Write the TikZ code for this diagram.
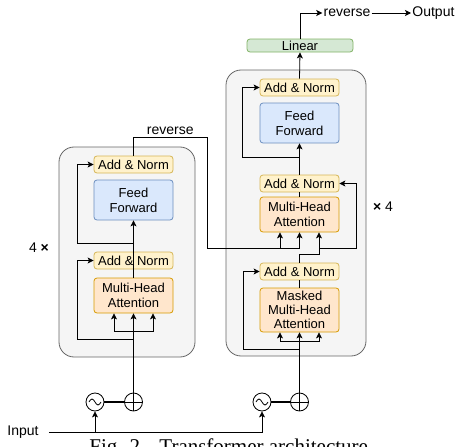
\documentclass[tikz,border=0pt]{standalone}
\usepackage{fontspec}
\setmainfont{Liberation Sans}
\newfontfamily\capfont{Liberation Serif}
\usetikzlibrary{arrows.meta}
\definecolor{ylwfill}{HTML}{FFF2CC}
\definecolor{ylwdraw}{HTML}{D6B656}
\definecolor{bluefill}{HTML}{DAE8FC}
\definecolor{bluedraw}{HTML}{6C8EBF}
\definecolor{orgfill}{HTML}{FFE6CC}
\definecolor{orgdraw}{HTML}{D79B00}
\definecolor{grnfill}{HTML}{D5E8D4}
\definecolor{grndraw}{HTML}{82B366}
\definecolor{blkfill}{HTML}{F5F5F5}
\definecolor{blkdraw}{HTML}{666666}
\tikzset{
  box/.style={draw, rounded corners=3pt, minimum width=79pt, inner sep=0pt,
    align=center, line width=0.8pt, font=\fontsize{13}{15}\selectfont},
  addnorm/.style={box, fill=ylwfill, draw=ylwdraw, minimum height=17pt},
  feedfwd/.style={box, fill=bluefill, draw=bluedraw, minimum height=40pt},
  attn/.style={box, fill=orgfill, draw=orgdraw},
  block/.style={fill=blkfill, draw=blkdraw, line width=0.8pt, rounded corners=15pt},
  lbl/.style={inner sep=1pt, font=\fontsize{14}{16}\selectfont},
  arr/.style={-{Stealth[length=6pt,width=6pt,inset=1.5pt]}},
  wave/.style={circle, draw, minimum size=18pt, inner sep=0pt, line width=0.8pt,
    path picture={\draw ([xshift=-6pt]path picture bounding box.center)
      sin ++(3pt,3pt) cos ++(3pt,-3pt) sin ++(3pt,-3pt) cos ++(3pt,3pt);}},
  summ/.style={circle, draw, minimum size=18pt, inner sep=0pt, line width=0.8pt,
    path picture={\draw (path picture bounding box.north) -- (path picture bounding box.south)
      (path picture bounding box.west) -- (path picture bounding box.east);}}
}
\begin{document}
\begin{tikzpicture}[x=1pt,y=-1pt,line width=0.8pt]
\useasboundingbox (0,0) rectangle (456,447);
\draw[block] (59,147) rectangle (195,357);
\draw[block] (226,70) rectangle (366,356);

\node[addnorm] (encan2) at (133.5,164.5) {Add \& Norm};
\node[feedfwd] (encff) at (133.5,200) {Feed\\Forward};
\node[addnorm] (encan1) at (133.5,260.5) {Add \& Norm};
\node[attn, minimum height=35pt] (encmha) at (133.5,295.5) {Multi-Head\\Attention};

\node[box, fill=grnfill, draw=grndraw, minimum width=106pt, minimum height=13pt] (linear) at (300,45.5) {Linear};
\node[addnorm] (decan3) at (299.5,87.5) {Add \& Norm};
\node[feedfwd] (decff) at (299.5,123) {Feed\\Forward};
\node[addnorm] (decan2) at (299.5,183.5) {Add \& Norm};
\node[attn, minimum height=35pt] (decmha) at (299.5,214.5) {Multi-Head\\Attention};
\node[addnorm] (decan1) at (299.5,271.5) {Add \& Norm};
\node[attn, minimum height=44pt, font=\fontsize{13}{14}\selectfont] (decmmha) at (299.5,310) {Masked\\Multi-Head\\Attention};

\node[wave] (encsin) at (95,402) {};
\node[summ] (encsum) at (133.5,402) {};
\node[wave] (decsin) at (262,402) {};
\node[summ] (decsum) at (299.5,402) {};

\node[lbl, anchor=west, inner sep=0pt] (inp) at (7,432) {Input};
\node[lbl] (rev) at (347,13) {reverse};
\node[lbl, anchor=west] (outp) at (411,13) {Output};
\node[lbl] (nleft) at (39,248) {4 \textbf{×}};
\node[lbl] (nright) at (383,207) {\textbf{×} 4};
\node[anchor=base west, inner sep=0pt, font=\capfont\fontsize{21}{24}\selectfont] (cap) at (89,453) {Fig. 2.\hspace{14pt}Transformer architecture};

\coordinate (encsplit) at (133.5,331);
\coordinate (encres1) at (133.5,339);
\coordinate (encres2) at (133.5,243);
\coordinate (decsplit) at (299.5,341);
\coordinate (decres1) at (299.5,349);
\coordinate (decres2) at (299.5,157);

\draw[arr] ([xshift=10pt]inp.east) -| (encsin.south);
\draw[arr] (encsin.south |- inp.east) -| (decsin.south);
\draw[line width=2.2pt] (encsin) -- (encsum);
\draw[line width=2.2pt] (decsin) -- (decsum);

\draw[arr] (encsum.north) -- (encmha.south);
\draw[arr] (encsplit) -| ([xshift=-19.5pt]encmha.south);
\draw[arr] (encsplit) -| ([xshift=19.5pt]encmha.south);
\draw[arr] (encres1) -- ++(-56.5,0) |- (encan1.west);
\draw[arr] (encmha.north) -- (encff.south);
\draw[arr] (encres2) -- ++(-56.5,0) |- (encan2.west);
\draw (encan2.north) -- ++(0,-18) -- node[lbl, above=2pt] (encrev) {reverse} ++(73.5,0) -- ++(0,111) coordinate (encout);
\draw[arr] (encout) -| (decmha.south);
\draw[arr] ([xshift=-19.5pt]decmha.south |- encout) -- ([xshift=-19.5pt]decmha.south);

\draw[arr] (decsum.north) -- (decmmha.south);
\draw[arr] (decsplit) -| ([xshift=-19.5pt]decmmha.south);
\draw[arr] (decsplit) -| ([xshift=19.5pt]decmmha.south);
\draw[arr] (decres1) -- ++(-56.5,0) |- (decan1.west);
\draw (decmmha.north) -- (decan1.south);
\draw[arr] (decan1.north) -- ++(0,-8.5) -| ([xshift=19.5pt]decmha.south);
\draw[arr] ([xshift=19.5pt]decmha.south |- encout) -- ++(37.5,0) |- (decan2.east);
\draw (decmha.north) -- (decan2.south);
\draw[arr] (decan2.north) -- (decff.south);
\draw[arr] (decres2) -- ++(-57.5,0) |- (decan3.west);
\draw[arr] (decan3.north) -- (linear.south);
\draw[arr] (linear.north) |- (rev.west);
\draw[arr] (rev.east) -- (outp.west);
\end{tikzpicture}
\end{document}
